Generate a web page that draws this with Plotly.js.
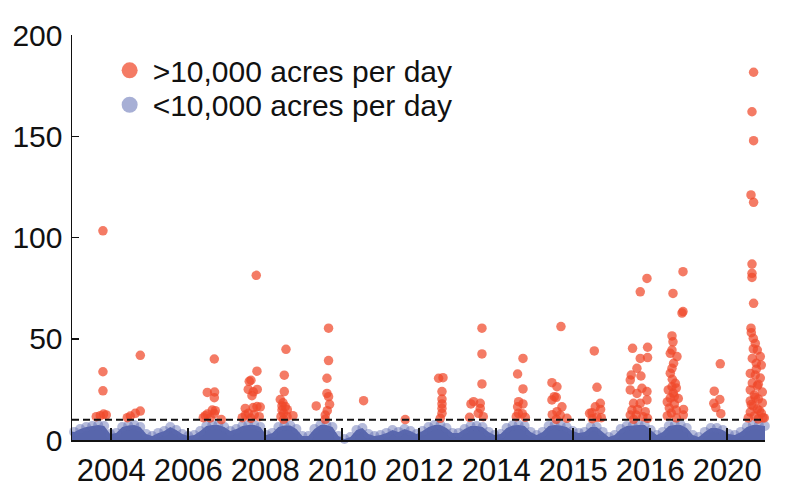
<!DOCTYPE html>
<html>
<head>
<meta charset="utf-8">
<script src="https://cdn.plot.ly/plotly-3.0.1.min.js"></script>
<style>html,body{margin:0;padding:0;background:#fff;}#chart{width:800px;height:494px;}</style>
</head>
<body>
<div id="chart"></div>
<script>
// Tick positions and labels on the x axis
var tickPositions = [1, 2, 3, 4, 5, 6, 7, 8, 9];
var tickLabels = ['2004', '2006', '2008', '2010', '2012', '2014', '2015', '2016', '2020'];
var yTicks = [0, 50, 100, 150, 200];
var threshold = 10; // thousand acres per day

// Days above 10,000 acres per day (thousand acres), x = position along the time axis
var bigX = [
  0.892, 0.892, 0.892, 0.900, 0.805, 0.857, 0.935,
  1.377, 1.377, 1.312, 1.247, 1.208,
  2.338, 2.247, 2.342, 2.338, 2.312, 2.351, 2.221, 2.286, 2.338, 2.247, 2.429, 2.195,
  2.883, 2.892, 2.792, 2.814, 2.779, 2.896, 2.827, 2.844, 2.740, 2.892, 2.844, 2.935, 2.740, 2.779, 2.814, 2.857, 2.701, 2.922,
  3.269, 3.247, 3.247, 3.230, 3.217, 3.260, 3.217, 3.238, 3.360, 3.204, 3.282, 3.238, 3.286, 3.195,
  3.822, 3.822, 3.801, 3.801, 3.822, 3.835, 3.662, 3.779, 3.779, 3.805,
  4.277, 4.818,
  5.251, 5.308, 5.295, 5.295, 5.295, 5.295, 5.295, 5.273,
  5.814, 5.814, 5.814, 5.671, 5.705, 5.792, 5.792, 5.653, 5.831, 5.766,
  6.347, 6.277, 6.347, 6.290, 6.347, 6.277, 6.286, 6.338, 6.260, 6.377,
  6.840, 6.723, 6.788, 6.753, 6.723, 6.779, 6.853, 6.788, 6.831, 6.918, 6.779, 6.727,
  7.273, 7.308, 7.351, 7.286, 7.243, 7.355, 7.212, 7.308, 7.364, 7.247,
  7.957, 7.870, 7.770, 7.965, 7.870, 7.965, 7.827, 7.753, 7.879, 7.740, 7.892, 7.740, 7.957, 7.827, 7.957, 7.783, 7.870, 7.762, 7.835, 7.935, 7.740, 7.818, 7.905, 7.965, 7.783,
  8.425, 8.295, 8.425, 8.412, 8.282, 8.295, 8.260, 8.347, 8.282, 8.303, 8.282, 8.282, 8.338, 8.234, 8.299, 8.260, 8.364, 8.221, 8.312, 8.247, 8.338, 8.273, 8.221, 8.338, 8.432, 8.429, 8.286, 8.325, 8.260, 8.312,
  8.909, 8.831, 8.903, 8.825, 8.851, 8.916,
  9.342, 9.321, 9.342, 9.308, 9.342, 9.321, 9.321, 9.321, 9.342, 9.308, 9.312, 9.338, 9.364, 9.390, 9.429, 9.325, 9.377, 9.442, 9.299, 9.364, 9.429, 9.325, 9.390, 9.299, 9.455, 9.351, 9.403, 9.299, 9.455, 9.338, 9.390, 9.299, 9.442, 9.351, 9.273, 9.481, 9.403, 9.464, 9.377, 9.338, 9.403, 9.312, 9.416, 9.364
];
var bigY = [
  103.3, 33.7, 24.3, 12.8, 11.5, 12.0, 12.4,
  41.8, 14.3, 13.2, 11.8, 11.0,
  40.0, 23.5, 23.7, 20.9, 14.8, 14.5, 12.0, 10.9, 13.0, 12.8, 10.1, 11.0,
  81.3, 34.0, 29.0, 29.5, 25.0, 25.0, 21.9, 23.8, 15.6, 16.5, 16.0, 16.3, 12.3, 13.2, 10.7, 12.5, 11.0, 11.5,
  44.8, 32.0, 23.9, 18.4, 16.8, 16.5, 14.8, 13.2, 12.0, 11.5, 11.5, 10.2, 15.0, 20.0,
  55.2, 39.2, 30.5, 23.0, 21.4, 17.6, 16.8, 12.3, 10.2, 14.5,
  19.4, 10.1,
  30.5, 30.8, 23.9, 20.2, 17.8, 15.6, 13.2, 10.7,
  55.2, 42.5, 27.7, 17.8, 18.9, 18.1, 15.6, 11.2, 11.5, 13.2,
  40.3, 32.6, 25.2, 18.9, 17.8, 16.4, 13.2, 13.0, 11.5, 11.2,
  56.0, 28.3, 26.3, 21.4, 19.8, 21.1, 16.4, 14.0, 12.3, 10.7, 10.2, 12.5,
  44.0, 26.0, 18.1, 16.4, 13.5, 15.1, 13.2, 11.2, 11.0, 10.5,
  79.8, 73.2, 45.3, 45.8, 40.3, 40.7, 35.4, 32.1, 31.6, 29.6, 25.5, 24.7, 23.9, 23.0, 19.8, 18.1, 18.1, 14.8, 15.1, 14.0, 12.3, 12.3, 11.5, 10.7, 10.2,
  83.1, 72.4, 63.4, 62.7, 51.4, 48.5, 42.8, 41.2, 44.4, 37.9, 35.4, 26.3, 25.7, 24.7, 23.2, 20.7, 20.5, 18.8, 17.8, 15.8, 14.8, 13.3, 11.9, 10.9, 15.1, 12.3, 30.0, 28.0, 33.0, 21.5,
  37.6, 24.1, 20.0, 18.1, 16.0, 13.0,
  181.6, 162.1, 147.8, 121.0, 117.4, 86.9, 82.3, 80.3, 67.5, 55.2, 53.0, 50.2, 47.7, 44.4, 41.2, 40.3, 37.9, 37.0, 32.9, 32.1, 30.6, 28.1, 26.7, 24.7, 23.7, 22.2, 20.2, 19.3, 18.3, 16.8, 15.3, 13.8, 13.3, 11.9, 10.9, 10.9, 10.4, 11.0, 35.0, 45.0, 27.5, 17.5, 14.5, 21.0
];

// Days below 10,000 acres per day: upper edge of the dense cloud (thousand acres)
var smallX = [
  0.440, 0.518, 0.596, 0.674, 0.752, 0.830, 0.908, 0.986, 1.064, 1.142,
  1.220, 1.298, 1.376, 1.454, 1.532, 1.610, 1.688, 1.766, 1.844, 1.922,
  2.000, 2.078, 2.156, 2.234, 2.312, 2.390, 2.468, 2.546, 2.624, 2.702,
  2.780, 2.858, 2.936, 3.014, 3.092, 3.170, 3.248, 3.326, 3.404, 3.482,
  3.560, 3.638, 3.716, 3.794, 3.872, 3.950, 4.028, 4.106, 4.184, 4.262,
  4.340, 4.418, 4.496, 4.574, 4.652, 4.730, 4.808, 4.886, 4.964, 5.042,
  5.120, 5.198, 5.276, 5.354, 5.432, 5.510, 5.588, 5.666, 5.744, 5.822,
  5.900, 5.978, 6.056, 6.134, 6.212, 6.290, 6.368, 6.446, 6.524, 6.602,
  6.680, 6.758, 6.836, 6.914, 6.992, 7.070, 7.148, 7.226, 7.304, 7.382,
  7.460, 7.538, 7.616, 7.694, 7.772, 7.850, 7.928, 8.006, 8.084, 8.162,
  8.240, 8.318, 8.396, 8.474, 8.552, 8.630, 8.708, 8.786, 8.864, 8.942,
  9.020, 9.098, 9.176, 9.254, 9.332, 9.410, 9.488, 9.540
];
var smallY = [
  4.4, 4.0, 5.4, 6.4, 6.9, 7.4, 6.9, 3.0, 3.5, 6.4,
  7.2, 7.4, 6.4, 3.0, 2.0, 3.5, 4.4, 6.4, 4.9, 3.0,
  2.0, 2.5, 4.4, 6.9, 7.4, 7.4, 6.4, 4.4, 5.4, 6.9,
  7.4, 7.4, 6.4, 2.5, 3.5, 6.4, 7.2, 7.2, 5.4, 2.0,
  2.0, 5.4, 7.4, 7.4, 6.4, 2.0, 0.5, 1.5, 4.9, 5.9,
  3.0, 2.0, 2.5, 3.5, 4.9, 4.0, 5.4, 4.4, 3.0, 4.4,
  6.4, 7.4, 7.4, 5.9, 3.5, 3.5, 5.4, 6.9, 6.9, 6.4,
  4.0, 2.5, 3.0, 5.9, 7.2, 7.4, 6.9, 4.0, 2.5, 4.0,
  6.9, 7.4, 7.2, 6.4, 4.4, 3.5, 4.0, 6.4, 6.4, 4.0,
  1.5, 2.5, 5.4, 6.9, 7.2, 7.4, 7.4, 4.9, 2.5, 4.0,
  6.9, 7.4, 7.4, 5.9, 2.5, 1.5, 4.0, 5.9, 5.9, 4.9,
  3.0, 2.5, 4.0, 6.4, 7.4, 7.4, 6.9, 5.9
];

var legendNames = ['>10,000 acres per day', '<10,000 acres per day'];
var redColor = 'rgba(240,72,42,0.72)';
var blueColor = 'rgba(90,104,176,0.45)';
var blueLegend = 'rgba(120,132,190,0.65)';
var blueFill = 'rgb(88,102,172)';
var FONT = '"Liberation Sans", Arial, Helvetica, sans-serif';

var traces = [
  {
    x: smallX, y: smallY, type: 'scatter', mode: 'lines+markers',
    line: {width: 0, color: blueFill}, fill: 'tozeroy', fillcolor: blueFill,
    marker: {size: 10, color: blueColor}, cliponaxis: false, showlegend: false, hoverinfo: 'skip'
  },
  {
    x: bigX, y: bigY, type: 'scatter', mode: 'markers',
    marker: {size: 9.5, color: redColor}, cliponaxis: false, showlegend: false
  },
  {
    x: [null], y: [null], type: 'scatter', mode: 'markers', name: legendNames[0],
    marker: {size: 16, color: redColor}, showlegend: true, legend: 'legend'
  },
  {
    x: [null], y: [null], type: 'scatter', mode: 'markers', name: legendNames[1],
    marker: {size: 16, color: blueLegend}, showlegend: true, legend: 'legend2'
  }
];

var legendFont = {family: FONT, size: 30, color: '#111'};
var layout = {
  width: 800, height: 494,
  margin: {l: 72, r: 35, t: 35, b: 54},
  paper_bgcolor: '#fff', plot_bgcolor: '#fff',
  font: {family: FONT, color: '#111', size: 28},
  showlegend: true,
  legend: {
    x: 0.05, y: 0.977, xanchor: 'left', yanchor: 'top',
    bgcolor: 'rgba(0,0,0,0)', font: legendFont, itemwidth: 36
  },
  legend2: {
    x: 0.05, y: 0.892, xanchor: 'left', yanchor: 'top',
    bgcolor: 'rgba(0,0,0,0)', font: legendFont, itemwidth: 36
  },
  xaxis: {
    range: [0.49, 9.49], tickmode: 'array', tickvals: tickPositions, ticktext: tickLabels,
    ticks: 'inside', ticklen: 12, tickwidth: 2, tickcolor: '#111',
    showline: true, linecolor: '#111', linewidth: 2, showgrid: false, zeroline: false,
    tickfont: {family: FONT, size: 31, color: '#111'}, ticklabelstandoff: 2
  },
  yaxis: {
    range: [0, 200], tickmode: 'array', tickvals: yTicks,
    ticks: 'inside', ticklen: 7, tickwidth: 1.5, tickcolor: '#111',
    showline: true, linecolor: '#111', linewidth: 1.5, showgrid: false, zeroline: false,
    tickfont: {family: FONT, size: 30, color: '#111'}, ticklabelstandoff: 2
  },
  shapes: [{
    type: 'line', xref: 'paper', x0: 0, x1: 1, yref: 'y', y0: threshold, y1: threshold,
    line: {color: '#111', width: 2, dash: '7px,4px'}, layer: 'above'
  }]
};

Plotly.newPlot('chart', traces, layout, {displayModeBar: false, staticPlot: true});
</script>
</body>
</html>
